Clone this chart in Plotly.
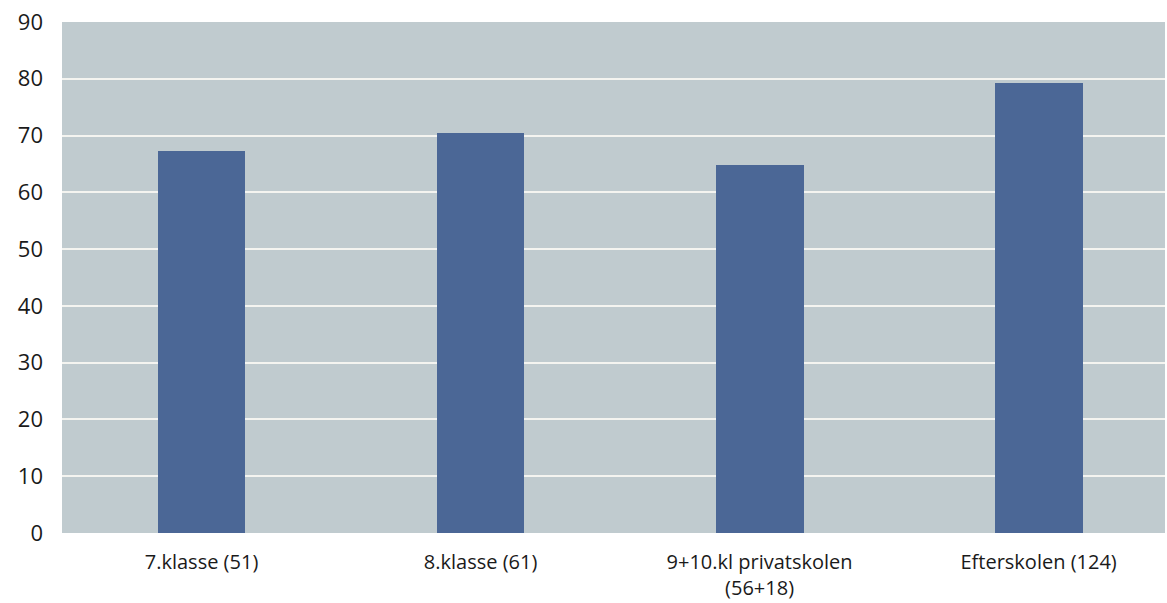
import plotly.graph_objects as go

categories = ["7.klasse (51)", "8.klasse (61)", "9+10.kl privatskolen<br>(56+18)", "Efterskolen (124)"]
values = [67.2, 70.5, 64.8, 79.3]
y_ticks = [0, 10, 20, 30, 40, 50, 60, 70, 80, 90]

fig = go.Figure()
fig.add_trace(go.Bar(
    x=categories,
    y=values,
    width=0.315,
    marker=dict(color="#4b6796", line=dict(width=0)),
))

fig.update_layout(
    width=1167,
    height=603,
    margin=dict(l=62, r=2, t=22, b=66),
    paper_bgcolor="white",
    plot_bgcolor="#c0cbcf",
    showlegend=False,
    font=dict(family="Open Sans", size=20, color="#1a1a1a"),
    bargap=0.0,
)
fig.update_xaxes(
    range=[-0.5, 3.453],
    showgrid=False,
    showline=False,
    zeroline=False,
    ticks="",
    tickfont=dict(size=20),
    ticklabelstandoff=15,
)
fig.update_yaxes(
    range=[0, 90],
    tickvals=y_ticks,
    showgrid=True,
    gridcolor="#f4f4f0",
    gridwidth=2,
    zeroline=False,
    showline=False,
    ticks="",
    tickfont=dict(size=22),
    ticklabelstandoff=18,
)

fig.write_html(
    "out.html",
    config={"displayModeBar": False},
    post_script="document.body.style.margin='0';",
)
